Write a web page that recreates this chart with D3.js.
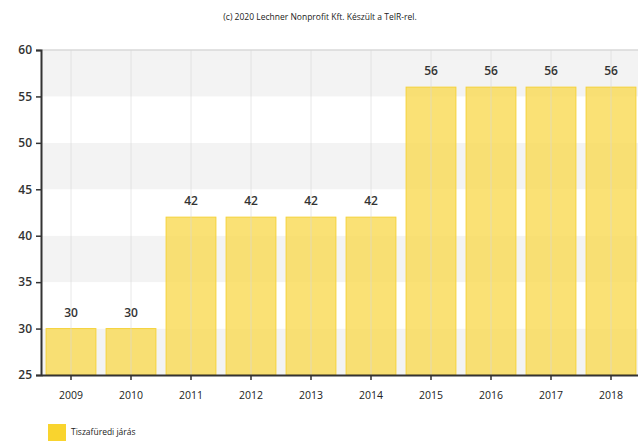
<html>
  <head>
    <meta charset="utf-8"/>
    <style>
      body { margin: 0; background: #fff; }
      text { font-family: "Open Sans", "DejaVu Sans", sans-serif; }
    </style>
  </head>
  <body>
    <svg></svg>
  </body>
  <script src="https://d3js.org/d3.v7.min.js"></script>
  <script>
  var years = ["2009", "2010", "2011", "2012", "2013", "2014", "2015", "2016", "2017", "2018"];
  var values = [30, 30, 42, 42, 42, 42, 56, 56, 56, 56];
  var yTicks = [25, 30, 35, 40, 45, 50, 55, 60];
  var seriesName = "Tiszafüredi járás";
  var credit = "(c) 2020 Lechner Nonprofit Kft. Készült a TeIR-rel.";

  var margin = {top: 50, right: -3, bottom: 68, left: 41};
  var W = 638, H = 443;
  var width = W - margin.left - margin.right;
  var height = H - margin.top - margin.bottom;

  var svg = d3.select("svg").attr("width", W).attr("height", H);

  svg.append("text")
    .attr("x", 320).attr("y", 20)
    .attr("text-anchor", "middle")
    .attr("font-size", 8.5)
    .attr("fill", "#222")
    .text(credit);

  var chart = svg.append("g")
    .attr("transform", "translate(" + margin.left + "," + margin.top + ")");

  var y = d3.scaleLinear().domain([25, 60]).range([height, 0]);
  var x = d3.scaleBand().domain(years).range([0, width]).paddingInner(0.17).paddingOuter(0.085);

  // alternating bands
  for (var i = 0; i < yTicks.length - 1; i++) {
    chart.append("rect")
      .attr("x", 0).attr("width", width)
      .attr("y", y(yTicks[i + 1]))
      .attr("height", y(yTicks[i]) - y(yTicks[i + 1]))
      .attr("fill", (yTicks.length - 2 - i) % 2 === 0 ? "#f3f3f3" : "#ffffff");
  }

  chart.append("line")
    .attr("x1", 0).attr("x2", width)
    .attr("y1", y(60)).attr("y2", y(60))
    .attr("stroke", "#d8d8d8").attr("stroke-width", 1.5);

  chart.selectAll(".bar")
    .data(values)
    .enter().append("rect")
    .attr("class", "bar")
    .attr("x", function(d, i) { return x(years[i]); })
    .attr("width", x.bandwidth())
    .attr("y", function(d) { return y(d); })
    .attr("height", function(d) { return height - y(d); })
    .attr("fill", "#f8d84e")
    .attr("fill-opacity", 0.78)
    .attr("stroke", "#f5d23a")
    .attr("stroke-width", 1);

  // vertical grid over bars
  chart.selectAll(".vg")
    .data(years)
    .enter().append("line")
    .attr("x1", function(d) { return x(d) + x.bandwidth() / 2; })
    .attr("x2", function(d) { return x(d) + x.bandwidth() / 2; })
    .attr("y1", 0).attr("y2", height)
    .attr("stroke", "#d9d9d9").attr("stroke-opacity", 0.6).attr("stroke-width", 1);

  chart.selectAll(".lbl")
    .data(values)
    .enter().append("text")
    .attr("x", function(d, i) { return x(years[i]) + x.bandwidth() / 2; })
    .attr("y", function(d) { return y(d) - 12; })
    .attr("text-anchor", "middle")
    .attr("font-size", 12)
    .attr("font-weight", 600)
    .attr("fill", "#333")
    .text(function(d) { return d; });

  var yAxis = chart.append("g")
    .call(d3.axisLeft(y).tickValues(yTicks).tickSize(5).tickPadding(4));
  yAxis.select(".domain").attr("stroke", "#333").attr("stroke-width", 2);
  yAxis.selectAll(".tick line").attr("stroke", "#333").attr("stroke-width", 1.5);
  yAxis.selectAll("text").attr("font-size", 12).attr("font-weight", 600).attr("fill", "#333")
    .style("font-family", "'Open Sans', sans-serif");

  var xAxis = chart.append("g")
    .attr("transform", "translate(0," + height + ")")
    .call(d3.axisBottom(x).tickSize(5).tickSizeOuter(0).tickPadding(12));
  xAxis.select(".domain").attr("stroke", "#333").attr("stroke-width", 2);
  xAxis.selectAll(".tick line").attr("stroke", "#333").attr("stroke-width", 1.5);
  xAxis.selectAll("text").attr("font-size", 10.5).attr("fill", "#222")
    .style("font-family", "'Open Sans', sans-serif");

  var legend = svg.append("g").attr("transform", "translate(48,424)");
  legend.append("rect").attr("width", 18).attr("height", 17).attr("fill", "#f9d42e");
  legend.append("text").attr("x", 23).attr("y", 11)
    .attr("font-size", 8.5).attr("fill", "#222").text(seriesName);
  </script>
</html>
